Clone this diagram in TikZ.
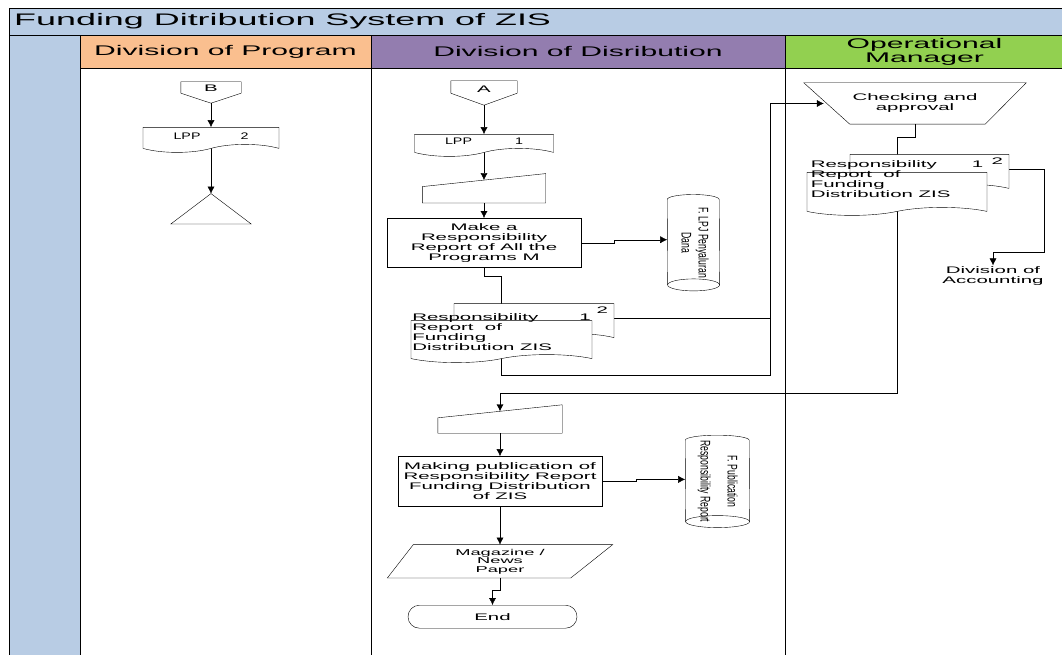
\documentclass[tikz,border=0pt]{standalone}
\usepackage{fontspec}
\setmainfont{Liberation Sans}
\newfontfamily\flowfont[FakeStretch=2.15]{Liberation Sans}
\newfontfamily\lppfont[FakeStretch=1.5]{Liberation Sans}
\newfontfamily\sidefont[FakeStretch=0.62]{Liberation Sans}
\usetikzlibrary{arrows.meta, positioning, shapes.symbols, backgrounds, calc}
\definecolor{laneblue}{RGB}{184,204,228}
\definecolor{progorange}{RGB}{250,191,143}
\definecolor{distpurple}{RGB}{147,125,175}
\definecolor{mgrgreen}{RGB}{146,208,80}

\begin{document}
\begin{tikzpicture}[x=1pt, y=-1pt, line width=0.8pt, >={Latex[length=7pt,width=7pt]}]
\tikzset{lanehead/.style={rectangle, draw, minimum height=33pt, inner sep=0pt, align=center, font=\flowfont\fontsize{14}{14}\selectfont},
		process/.style={rectangle, draw, align=center, inner sep=2pt, font=\flowfont\fontsize{9.5}{10}\selectfont},
		docu/.style={tape, tape bend top=none, tape bend height=8pt, draw, fill=white, inner sep=0pt, font=\lppfont\fontsize{9.5}{10}\selectfont},
		doctext/.style={font=\flowfont\fontsize{9.5}{10}\selectfont, align=left, inner sep=1pt},
		offpage/.style={inner sep=0pt, font=\flowfont\fontsize{9.5}{10}\selectfont,
			append after command={\pgfextra{\draw (\tikzlastnode.north west) -- (\tikzlastnode.north east) -- ([yshift=#1]\tikzlastnode.south east) -- (\tikzlastnode.south) -- ([yshift=#1]\tikzlastnode.south west) -- cycle;}}},
		inbox/.style={inner sep=0pt,
			append after command={\pgfextra{\draw ([yshift=-13pt]\tikzlastnode.north west) -- (\tikzlastnode.north east) -- (\tikzlastnode.south east) -- (\tikzlastnode.south west) -- cycle;}}},
		archive/.style={inner sep=0pt,
			append after command={\pgfextra{\draw (\tikzlastnode.north) -- (\tikzlastnode.south east) -- (\tikzlastnode.south west) -- cycle;}}},
		store/.style={inner sep=0pt, minimum width=#1, font=\sidefont\fontsize{14}{17}\selectfont,
			append after command={\pgfextra{\draw ([yshift=-5pt]\tikzlastnode.north west) arc[start angle=180, end angle=0, x radius=#1/2, y radius=5pt] -- ([yshift=6pt]\tikzlastnode.south east) arc[start angle=0, end angle=-180, x radius=#1/2, y radius=6pt] -- cycle;
				\draw ([yshift=6pt]\tikzlastnode.south east) arc[start angle=0, end angle=180, x radius=#1/2, y radius=6pt];}}},
		term/.style={rectangle, draw, rounded corners=11.5pt, inner sep=0pt, font=\flowfont\fontsize{9.5}{10}\selectfont}}
\useasboundingbox (0,0) rectangle (1062,655);
\begin{pgfonlayer}{background}
\fill[white] (0,0) rectangle (1062,655);
\end{pgfonlayer}
% lanes
\draw[fill=laneblue] (9,8) rectangle (1064,35);
\draw[fill=laneblue] (9,35) rectangle (80,660);
\draw (80,68) rectangle (371,660);
\draw (371,68) rectangle (785,660);
\draw (785,68) rectangle (1064,660);
\node[anchor=west, inner sep=0pt, font=\flowfont\fontsize{16.7}{17}\selectfont] (Title) at (14,21.5) {Funding Ditribution System of ZIS};
\node[lanehead, fill=progorange, minimum width=291pt] (HP) at (225.5,51.5) {Division of Program};
\node[lanehead, fill=distpurple, minimum width=414pt] (HD) at (578,51.5) {Division of Disribution};
\node[lanehead, fill=mgrgreen, minimum width=279pt] (HM) at (924.5,51.5) {Operational\\Manager};
% division of program
\node[offpage=10pt, minimum width=60pt, text height=10pt, text depth=11pt] (OB) at (211,92.5) {B};
\node[docu, minimum width=136pt, minimum height=25pt, below=24pt of OB] (LP2) {LPP\hspace{40pt}2};
\node[archive, minimum width=80pt, minimum height=30pt, below=49pt of LP2] (TR) {};
% division of distribution
\node[offpage=12pt, minimum width=66pt, text height=12pt, text depth=12pt] (OA) at (484,93) {A};
\node[docu, minimum width=139pt, minimum height=22pt, below=29pt of OA] (LP1) {LPP\hspace{43pt}1};
\node[inbox, minimum width=123pt, minimum height=29pt, below=25pt of LP1] (MI1) {};
\node[process, minimum width=194pt, minimum height=49pt, below=15pt of MI1] (MR) {Make a\\Responsibility\\Report of All the\\Programs M};
\node[store=52pt, minimum height=96pt, right=86pt of MR] (FL) {\rotatebox{-90}{\begin{tabular}{@{}c@{}}F. LPJ Penyaluran\\Dana\end{tabular}}};
\node[docu, minimum width=160pt, minimum height=38pt, below=36pt of MR, xshift=50pt,
	label={[doctext, anchor=north east, inner sep=0pt, xshift=-6pt, yshift=-3pt]north east:2}] (RR2) {};
\node[docu, minimum width=181pt, minimum height=42pt, below=53pt of MR, xshift=17.5pt,
	label={[doctext, yshift=5pt]center:{Responsibility\hspace{41pt}1\\Report~ of\\Funding\\Distribution ZIS}}] (RR1) {};
% operational manager
\node[process, draw=none, minimum width=222pt, minimum height=41pt,
	append after command={\pgfextra{\draw (\tikzlastnode.north west) -- (\tikzlastnode.north east) -- ([xshift=-41pt]\tikzlastnode.south east) -- ([xshift=46pt]\tikzlastnode.south west) -- cycle;}}] (CA) at (915,103.5) {Checking and\\approval};
\node[docu, minimum width=159pt, minimum height=38pt, below=30pt of CA, xshift=14.5pt,
	label={[doctext, anchor=north east, inner sep=0pt, xshift=-6pt, yshift=-3pt]north east:2}] (OR2) {};
\node[docu, minimum width=180pt, minimum height=43pt, below=48pt of CA, xshift=-18pt,
	label={[doctext, yshift=11pt]center:{Responsibility\hspace{35pt}1\\Report~ of\\Funding\\Distribution ZIS}}] (OR1) {};
\node[process, draw=none, inner sep=1pt] (DA) at (993,276) {Division of\\Accounting};
% publication
\node[inbox, minimum width=124pt, minimum height=28pt] (MI2) at (500,419) {};
\node[process, minimum width=204pt, minimum height=50pt, below=23pt of MI2] (MP) {Making publication of\\Responsibility Report\\Funding Distribution\\of ZIS};
\node[store=64pt, minimum height=92pt, right=83pt of MP] (FP) {\rotatebox{-90}{\begin{tabular}{@{}c@{}}F. Publication\\[10pt]Responsibility Report\end{tabular}}};
\node[process, draw=none, minimum width=225pt, minimum height=33pt, inner sep=0pt, font=\flowfont\fontsize{8.5}{8.5}\selectfont, below=38pt of MP,
	append after command={\pgfextra{\draw ([xshift=26pt]\tikzlastnode.north west) -- (\tikzlastnode.north east) -- ([xshift=-42pt]\tikzlastnode.south east) -- (\tikzlastnode.south west) -- cycle;}}] (MG) {Magazine /\\News\\Paper};
\node[term, minimum width=169pt, minimum height=23pt, below=27pt of MG, xshift=-7.5pt] (EN) {End};
% connectors
\begin{pgfonlayer}{background}
\draw[->] (OB.south) -- (LP2.north);
\draw[->] (LP2.south) -- (TR.north);
\draw[->] (OA.south) -- (LP1.north);
\draw[->] (LP1.south) -- ([yshift=-6.5pt]MI1.north);
\draw[->] (MI1.south) -- (MR.north);
\draw[->] (MR.east) -- ++(33,0) |- ([yshift=3pt]FL.west);
\draw (MR.south) -- ++(0,9) -| (RR1.north);
\draw[->] (RR2.east) -- ++(156,0) |- ([xshift=20pt]CA.west);
\draw (RR1.south) -- ++(0,20) -| ($(RR2.east)+(156,0)$);
\draw (CA.south) -- ++(0,13) -| (OR1.north);
\draw[->] (OR2.east) -- ++(35,0) -- ++(0,83) -| (DA.north);
\draw[->] (OR1.south) -- ++(0,186) -| ([yshift=-6.5pt]MI2.north);
\draw[->] (MI2.south) -- (MP.north);
\draw[->] (MP.east) -- ++(34,0) |- ([yshift=2pt]FP.west);
\draw[->] (MP.south) -- (MG.north);
\draw[->] (MG.south) -- ++(0,12) -| (EN.north);
\end{pgfonlayer}
\end{tikzpicture}
\end{document}
